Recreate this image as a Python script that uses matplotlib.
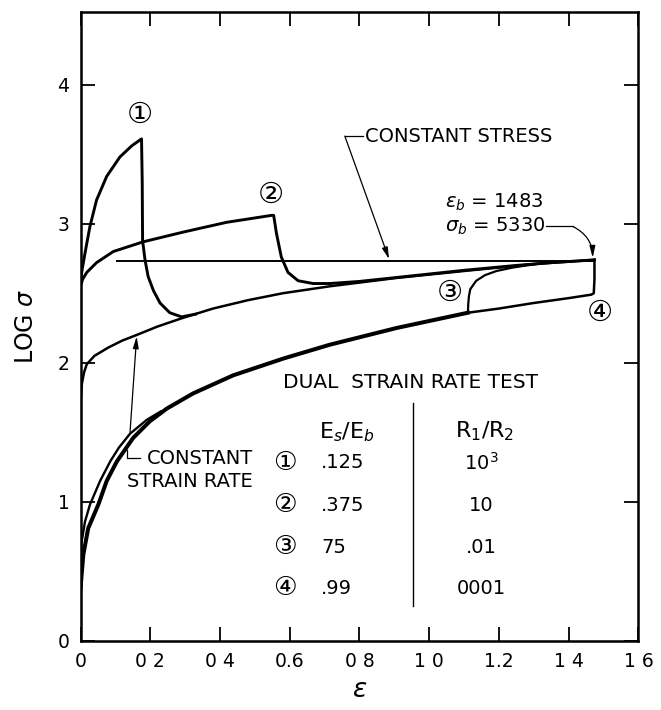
import numpy as np
import matplotlib
matplotlib.use('Agg')
import matplotlib.pyplot as plt

plt.rcParams['font.family'] = ['DejaVu Sans', 'Noto Sans CJK JP']
plt.rcParams['mathtext.fontset'] = 'dejavusans'

# constant strain rate (fast) curve
mid_eps = [0, 0.004, 0.01, 0.018, 0.04, 0.08, 0.12, 0.161, 0.22, 0.29, 0.38, 0.48, 0.58,
           0.715, 0.906, 1.1, 1.3, 1.474]
mid_log = [1.70, 1.85, 1.93, 1.99, 2.05, 2.11, 2.16, 2.20, 2.26, 2.32, 2.39, 2.45, 2.50,
           2.55, 2.61, 2.66, 2.71, 2.74]

# constant strain rate (slow) curves near origin
low_eps = [0, 0.008, 0.022, 0.051, 0.075, 0.104, 0.151, 0.199, 0.247, 0.323, 0.438,
           0.581, 0.715, 0.906, 1.111]
low_log = [0.38, 0.62, 0.81, 0.98, 1.15, 1.29, 1.46, 1.58, 1.67, 1.78, 1.91,
           2.03, 2.13, 2.25, 2.36]
out_eps = [0, 0.003, 0.013, 0.027, 0.056, 0.085, 0.11, 0.142, 0.19, 0.23]
out_log = [0.55, 0.71, 0.86, 0.98, 1.15, 1.29, 1.39, 1.49, 1.59, 1.65]

# dual strain rate tests
c1_eps = [0, 0.004, 0.013, 0.027, 0.046, 0.075, 0.113, 0.147, 0.175, 0.177, 0.178,
          0.185, 0.194, 0.209, 0.228, 0.256, 0.29, 0.33]
c1_log = [2.57, 2.66, 2.79, 2.98, 3.17, 3.34, 3.48, 3.56, 3.61, 3.3, 2.88,
          2.74, 2.62, 2.52, 2.43, 2.36, 2.33, 2.35]
c2_eps = [0, 0.006, 0.018, 0.046, 0.094, 0.18, 0.295, 0.419, 0.548, 0.554, 0.562, 0.576,
          0.595, 0.624, 0.667, 0.715, 0.8, 0.95, 1.1, 1.25, 1.35, 1.474]
c2_log = [2.55, 2.60, 2.65, 2.72, 2.80, 2.87, 2.94, 3.01, 3.06, 3.06, 2.93, 2.76,
          2.65, 2.59, 2.57, 2.57, 2.585, 2.625, 2.665, 2.70, 2.72, 2.74]
c3_eps = [1.111, 1.112, 1.114, 1.118, 1.135, 1.16, 1.193, 1.24, 1.307]
c3_log = [2.36, 2.42, 2.48, 2.53, 2.59, 2.63, 2.66, 2.685, 2.71]
c4_eps = [1.111, 1.2, 1.3, 1.4, 1.465, 1.472, 1.474, 1.474]
c4_log = [2.36, 2.39, 2.43, 2.465, 2.49, 2.50, 2.60, 2.74]

# constant stress
stress_eps = [0.104, 1.474]
stress_log = [2.73, 2.73]

x_ticks = [0, 0.2, 0.4, 0.6, 0.8, 1.0, 1.2, 1.4, 1.6]
x_labels = ['0', '0 2', '0 4', '0.6', '0 8', '1 0', '1.2', '1 4', '1 6']
y_ticks = [0, 1, 2, 3, 4]
y_labels = ['0', '1', '2', '3', '4']

tests = ['①', '②', '③', '④']
es_eb = ['.125', '.375', '75', '.99']
r1_r2 = ['10$^3$', '10', '.01', '0001']
row_y = [1.28, 0.975, 0.675, 0.38]

fig = plt.figure(figsize=(6.61, 7.10), dpi=100)
ax = fig.add_axes([0.1218, 0.0972, 0.844, 0.8855])

k = 'black'
ax.plot(mid_eps, mid_log, color=k, lw=1.8)
ax.plot(low_eps, low_log, color=k, lw=2.9)
ax.plot(out_eps, out_log, color=k, lw=1.7)
ax.plot(c1_eps, c1_log, color=k, lw=2.1)
ax.plot(c2_eps, c2_log, color=k, lw=2.1)
ax.plot(c3_eps, c3_log, color=k, lw=1.6)
ax.plot(c4_eps, c4_log, color=k, lw=1.8)
ax.plot(stress_eps, stress_log, color=k, lw=1.4)

ax.set_xlim(0, 1.6)
ax.set_ylim(0, 4.52)
ax.set_xticks(x_ticks)
ax.set_xticklabels(x_labels)
ax.set_yticks(y_ticks)
ax.set_yticklabels(y_labels)
ax.tick_params(direction='in', length=10, width=1.3, top=True, right=True,
               labelsize=13.5, pad=8)
for s in ax.spines.values():
    s.set_linewidth(1.8)

ax.set_xlabel('$\\epsilon$', fontsize=19, labelpad=4)
ax.set_ylabel('LOG $\\sigma$', fontsize=17, labelpad=14)

# curve numbers
ax.text(0.169, 3.78, '①', fontsize=21, ha='center', va='center')
ax.text(0.545, 3.21, '②', fontsize=21, ha='center', va='center')
ax.text(1.059, 2.50, '③', fontsize=21, ha='center', va='center')
ax.text(1.489, 2.36, '④', fontsize=21, ha='center', va='center')

# constant stress label
ax.text(0.815, 3.63, 'CONSTANT STRESS', fontsize=14, ha='left', va='center')
ax.plot([0.758, 0.81], [3.63, 3.63], color=k, lw=0.9)
ax.annotate('', xy=(0.885, 2.745), xytext=(0.758, 3.63),
            arrowprops=dict(arrowstyle='-|>,head_length=0.7,head_width=0.17',
                            lw=0.9, color=k, shrinkA=0, shrinkB=0))

# break point
ax.text(1.045, 3.15, '$\\epsilon_b$ = 1483', fontsize=14, ha='left', va='center')
ax.text(1.045, 2.98, '$\\sigma_b$ = 5330', fontsize=14, ha='left', va='center')
ax.plot([1.335, 1.412], [2.98, 2.98], color=k, lw=0.9)
ax.annotate('', xy=(1.469, 2.755), xytext=(1.412, 2.98),
            arrowprops=dict(arrowstyle='-|>,head_length=0.7,head_width=0.17',
                            lw=0.9, color=k, shrinkA=0, shrinkB=0,
                            connectionstyle='arc3,rad=-0.3'))

# constant strain rate label
ax.text(0.494, 1.31, 'CONSTANT', fontsize=14, ha='right', va='center')
ax.text(0.494, 1.15, 'STRAIN RATE', fontsize=14, ha='right', va='center')
ax.plot([0.133, 0.133, 0.172], [1.375, 1.315, 1.315], color=k, lw=0.9)
ax.annotate('', xy=(0.161, 2.19), xytext=(0.142, 1.50),
            arrowprops=dict(arrowstyle='-|>,head_length=0.7,head_width=0.17',
                            lw=0.9, color=k, shrinkA=0, shrinkB=0))

# table
ax.text(0.946, 1.86, 'DUAL  STRAIN RATE TEST', fontsize=14.5, ha='center', va='center')
ax.text(0.763, 1.50, 'E$_s$/E$_b$', fontsize=16, ha='center', va='center')
ax.text(1.159, 1.51, 'R$_1$/R$_2$', fontsize=16, ha='center', va='center')
ax.plot([0.954, 0.954], [0.25, 1.71], color=k, lw=1.0)
for i in range(4):
    ax.text(0.586, row_y[i], tests[i], fontsize=19, ha='center', va='center')
    ax.text(0.69, row_y[i], es_eb[i], fontsize=14, ha='left', va='center')
    ax.text(1.15, row_y[i], r1_r2[i], fontsize=14, ha='center', va='center')

fig.savefig('out.png', dpi=100)
